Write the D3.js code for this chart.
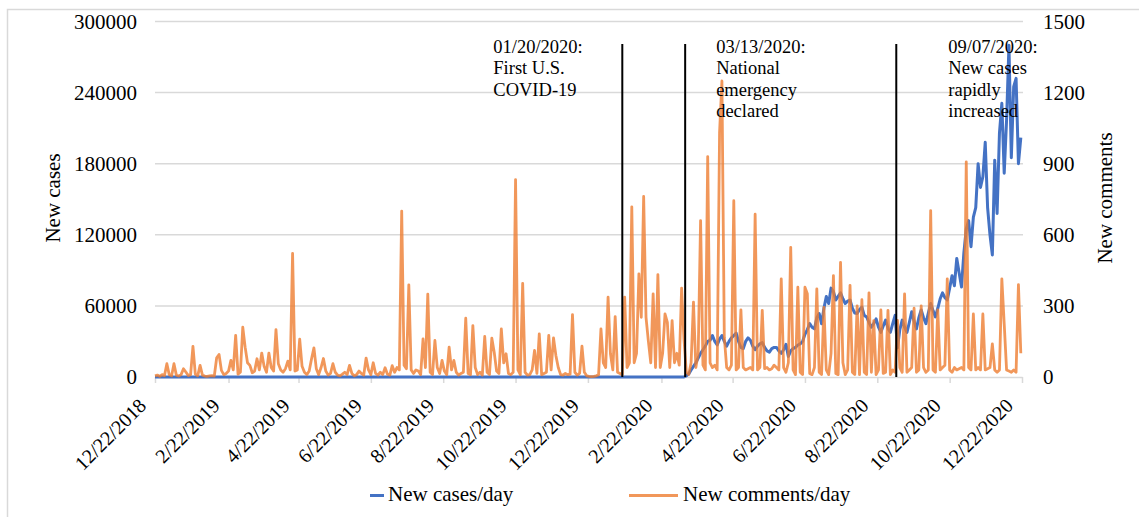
<!DOCTYPE html>
<html>
<head>
<meta charset="utf-8">
<script src="https://cdn.jsdelivr.net/npm/d3@7"></script>
<style>
  body { margin: 0; background: #fff; }
  svg text { font-family: "Liberation Serif", "Times New Roman", serif; fill: #000; }
</style>
</head>
<body>
<div id="chart"></div>
<script>
// ---- data (one value every 2 days) ----
var seriesStart = "12/22/2018";
var stepDays = 2;

// new comments per day (right axis)
var comments = [
  5, 8, 3, 10, 6, 56, 10, 5, 56, 8,
  4, 10, 35, 21, 6, 10, 129, 12, 5, 49,
  8, 4, 3, 5, 6, 4, 81, 95, 28, 10,
  15, 25, 70, 30, 176, 12, 20, 210, 126, 60,
  49, 18, 25, 77, 30, 101, 45, 20, 101, 40,
  25, 200, 56, 30, 20, 35, 67, 30, 522, 25,
  30, 160, 45, 20, 10, 25, 77, 123, 35, 10,
  40, 78, 25, 8, 15, 56, 20, 8, 5, 12,
  20, 10, 49, 15, 5, 10, 25, 15, 8, 80,
  30, 10, 60, 15, 8, 20, 10, 39, 12, 8,
  48, 20, 40, 30, 700, 50, 35, 389, 30, 15,
  30, 25, 10, 161, 40, 350, 20, 10, 154, 40,
  15, 70, 25, 10, 126, 30, 70, 20, 8, 15,
  20, 248, 15, 10, 217, 40, 10, 20, 8, 171,
  20, 10, 164, 105, 25, 15, 203, 60, 98, 15,
  10, 20, 833, 30, 10, 395, 20, 8, 10, 30,
  112, 15, 182, 10, 15, 20, 176, 30, 165, 91,
  40, 10, 8, 15, 10, 12, 263, 20, 8, 15,
  130, 20, 5, 3, 2, 3, 5, 10, 203, 60,
  40, 337, 98, 30, 255, 20, 15, 10, 337, 40,
  60, 718, 60, 100, 435, 252, 762, 252, 150, 60,
  351, 40, 432, 40, 100, 266, 230, 40, 238, 60,
  100, 50, 375, 160, 20, 10, 60, 316, 40, 100,
  660, 50, 30, 930, 60, 40, 50, 30, 1031, 1249,
  168, 40, 30, 50, 744, 30, 40, 283, 40, 30,
  35, 40, 30, 687, 30, 40, 281, 35, 40, 30,
  35, 50, 40, 30, 414, 40, 20, 60, 547, 30,
  10, 379, 20, 10, 379, 351, 15, 10, 40, 372,
  20, 10, 294, 30, 10, 100, 428, 15, 10, 484,
  60, 10, 30, 387, 20, 10, 300, 10, 326, 20,
  10, 355, 20, 238, 10, 30, 283, 15, 20, 281,
  10, 30, 20, 239, 40, 20, 351, 20, 30, 40,
  290, 20, 30, 300, 40, 20, 30, 702, 30, 20,
  283, 30, 40, 50, 414, 30, 20, 40, 30, 35,
  40, 30, 908, 40, 30, 266, 30, 40, 30, 266,
  30, 35, 40, 140, 30, 20, 30, 414, 224, 30,
  25, 20, 30, 20, 390, 100
];

// new U.S. cases per day (left axis), zero before the first case
var casesBefore = 0;
var casesStart = "1/20/2020";
var cases = [
  0, 0, 0, 0, 0, 0, 0, 0, 0, 0,
  0, 0, 0, 0, 0, 0, 0, 0, 0, 0,
  0, 0, 0, 0, 0, 0, 0, 1000, 2500, 6000,
  9000, 12000, 16000, 20000, 23000, 26000, 30000, 31000, 35000, 30000,
  27000, 32000, 35000, 30000, 26000, 30000, 33000, 35000, 37000, 30000,
  25000, 24000, 30000, 33000, 31000, 26000, 23000, 26000, 28000, 29000,
  25000, 22000, 21000, 24000, 25000, 25000, 22000, 20000, 23000, 27500,
  17400, 22000, 24000, 25000, 27000, 28000, 30000, 36000, 40000, 45000,
  42000, 40600, 50000, 53600, 45000, 58000, 68000, 62000, 75000, 72000,
  65000, 68000, 71000, 66000, 62000, 64000, 65000, 58000, 54000, 53600,
  57000, 59000, 52000, 50700, 46000, 42000, 45000, 49000, 42000, 37700,
  43000, 48000, 41000, 37700, 45000, 52000, 24600, 40000, 48000, 42000,
  37700, 46000, 55000, 47000, 40600, 50000, 56500, 50000, 45000, 54000,
  62000, 56000, 50700, 58000, 66000, 71000, 67000, 65000, 75000, 85500,
  77000, 100000, 88000, 76000, 105000, 125000, 132000, 110000, 135000, 143000,
  180000, 160000, 169000, 198000, 143000, 120000, 103000, 183000, 138000, 206000,
  231000, 172000, 217000, 280000, 185000, 245000, 252000, 180000, 202000
];

var xTickLabels = ["12/22/2018", "2/22/2019", "4/22/2019", "6/22/2019", "8/22/2019",
  "10/22/2019", "12/22/2019", "2/22/2020", "4/22/2020", "6/22/2020", "8/22/2020",
  "10/22/2020", "12/22/2020"];
var leftTicks = [0, 60000, 120000, 180000, 240000, 300000];
var rightTicks = [0, 300, 600, 900, 1200, 1500];

var eventDates = ["01/20/2020", "03/13/2020", "09/07/2020"];
var eventLabels = [
  ["01/20/2020:", "First U.S.", "COVID-19"],
  ["03/13/2020:", "National", "emergency", "declared"],
  ["09/07/2020:", "New cases", "rapidly", "increased"]
];
var seriesNames = ["New cases/day", "New comments/day"];
var axisTitles = ["New cases", "New comments"];

// ---- layout ----
var width = 1139, height = 517;
var plot = { left: 155, right: 1022, top: 21.5, bottom: 377 };
var eventTextDx = [-129, 31, 52];
var gridColor = "#d9d9d9";
var blue = "#4472C4", orange = "#ED7D31";

var parseDate = d3.timeParse("%m/%d/%Y");

var svg = d3.select("#chart")
    .append("svg")
    .attr("width", width)
    .attr("height", height);

// outer frame
svg.append("rect")
    .attr("x", 7.5).attr("y", 9.5)
    .attr("width", width + 10).attr("height", height + 10)
    .attr("fill", "none")
    .attr("stroke", gridColor)
    .attr("stroke-width", 1.5);

var x = d3.scaleTime()
    .domain([parseDate(xTickLabels[0]), parseDate(xTickLabels[xTickLabels.length - 1])])
    .range([plot.left, plot.right]);
var yLeft = d3.scaleLinear().domain([0, 300000]).range([plot.bottom, plot.top]);
var yRight = d3.scaleLinear().domain([0, 1500]).range([plot.bottom, plot.top]);

// gridlines
svg.append("g")
    .selectAll("line")
    .data(leftTicks.slice(1))
    .enter().append("line")
    .attr("x1", plot.left).attr("x2", plot.right + 1)
    .attr("y1", function(d) { return yLeft(d); })
    .attr("y2", function(d) { return yLeft(d); })
    .attr("stroke", gridColor)
    .attr("stroke-width", 1.5);

// left axis
var gl = svg.append("g")
    .attr("transform", "translate(" + plot.left + ",0)")
    .call(d3.axisLeft(yLeft).tickValues(leftTicks).tickFormat(d3.format("d")).tickSize(0).tickPadding(18));
gl.select(".domain").remove();
gl.selectAll("text").attr("font-size", "21px").attr("font-family", "Liberation Serif");

// right axis
var gr = svg.append("g")
    .attr("transform", "translate(" + plot.right + ",0)")
    .call(d3.axisRight(yRight).tickValues(rightTicks).tickFormat(d3.format("d")).tickSize(0).tickPadding(21));
gr.select(".domain").remove();
gr.selectAll("text").attr("font-size", "21px").attr("font-family", "Liberation Serif");

// x axis
var gx = svg.append("g")
    .attr("transform", "translate(0," + plot.bottom + ")")
    .call(d3.axisBottom(x)
        .tickValues(xTickLabels.map(parseDate))
        .tickFormat(function(d, i) { return xTickLabels[i]; })
        .tickSizeInner(6).tickSizeOuter(0));
gx.select(".domain").attr("stroke", gridColor).attr("stroke-width", 1.5);
gx.selectAll(".tick line").attr("stroke", gridColor).attr("stroke-width", 1.5);
gx.selectAll("text")
    .attr("font-size", "20px")
    .attr("font-family", "Liberation Serif")
    .attr("y", 0).attr("dy", "0.35em")
    .attr("text-anchor", "end")
    .attr("transform", "translate(-13,25) rotate(-45)");

// axis titles
svg.append("text")
    .attr("transform", "translate(60,198) rotate(-90)")
    .attr("text-anchor", "middle")
    .attr("font-size", "21px")
    .text(axisTitles[0]);
svg.append("text")
    .attr("transform", "translate(1112,198) rotate(-90)")
    .attr("text-anchor", "middle")
    .attr("font-size", "21px")
    .text(axisTitles[1]);

// series
var start = parseDate(seriesStart);
var commentData = comments.map(function(v, i) {
  return { date: d3.timeDay.offset(start, i * stepDays), value: v };
});
var caseData = [{ date: start, value: casesBefore }].concat(cases.map(function(v, i) {
  return { date: d3.timeDay.offset(parseDate(casesStart), i * stepDays), value: v };
}));

var caseLine = d3.line()
    .x(function(d) { return x(d.date); })
    .y(function(d) { return yLeft(d.value); });
var commentLine = d3.line()
    .x(function(d) { return x(d.date); })
    .y(function(d) { return yRight(d.value); });

svg.append("path")
    .datum(caseData)
    .attr("d", caseLine)
    .attr("fill", "none")
    .attr("stroke", blue)
    .attr("stroke-width", 3)
    .attr("stroke-linejoin", "round");

svg.append("path")
    .datum(commentData)
    .attr("d", commentLine)
    .attr("fill", "none")
    .attr("stroke", orange)
    .attr("stroke-opacity", 0.8)
    .attr("stroke-width", 2.8)
    .attr("stroke-linejoin", "round");

// event markers
var ev = svg.append("g").selectAll("g")
    .data(eventDates)
    .enter().append("g");
ev.append("line")
    .attr("x1", function(d) { return x(parseDate(d)); })
    .attr("x2", function(d) { return x(parseDate(d)); })
    .attr("y1", 44).attr("y2", plot.bottom)
    .attr("stroke", "#000")
    .attr("stroke-width", 2);
ev.each(function(d, i) {
  var t = d3.select(this).append("text")
      .attr("font-size", "18.5px")
      .attr("x", x(parseDate(d)) + eventTextDx[i])
      .attr("y", 52.5);
  eventLabels[i].forEach(function(s, k) {
    t.append("tspan")
        .attr("x", x(parseDate(d)) + eventTextDx[i])
        .attr("y", 52.5 + k * 21.5)
        .text(s);
  });
});

// legend
var legend = svg.append("g");
legend.append("line")
    .attr("x1", 370).attr("x2", 384).attr("y1", 495.5).attr("y2", 495.5)
    .attr("stroke", blue).attr("stroke-width", 3);
legend.append("text")
    .attr("x", 388).attr("y", 501)
    .attr("font-size", "21px")
    .text(seriesNames[0]);
legend.append("line")
    .attr("x1", 629).attr("x2", 678).attr("y1", 495.5).attr("y2", 495.5)
    .attr("stroke", orange).attr("stroke-opacity", 0.8).attr("stroke-width", 3);
legend.append("text")
    .attr("x", 683).attr("y", 501)
    .attr("font-size", "21px")
    .text(seriesNames[1]);
</script>
</body>
</html>
